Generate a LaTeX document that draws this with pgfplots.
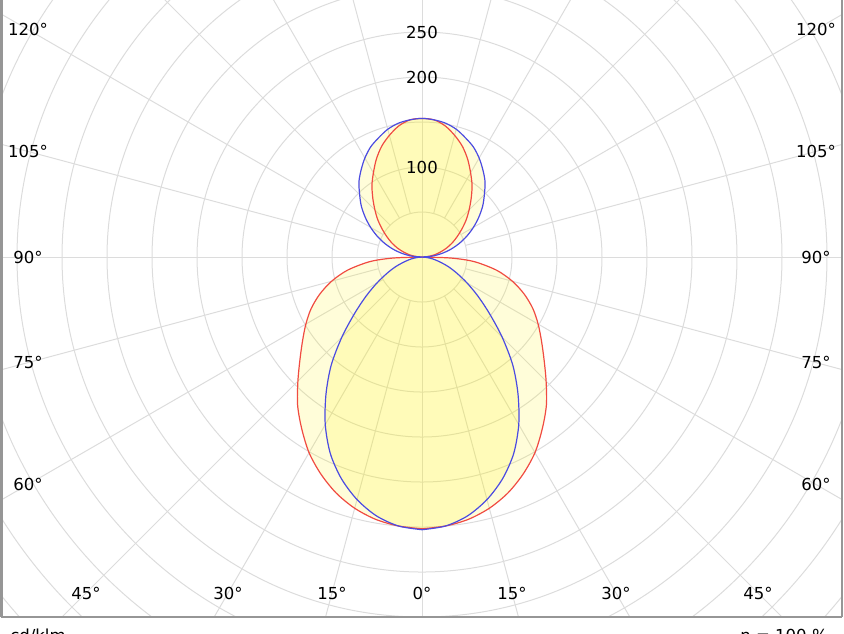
\documentclass[border=0pt]{standalone}
\usepackage{fontspec}
\setmainfont{DejaVu Sans}
\usepackage{pgfplots}
\pgfplotsset{compat=1.18}
\usepackage{pgfplotstable}
\definecolor{gridc}{RGB}{220,220,220}
\definecolor{redc}{RGB}{240,75,65}
\definecolor{bluec}{RGB}{75,75,225}
\definecolor{framec}{RGB}{150,150,150}
\newcommand\lbl{\fontsize{12.4}{14}\selectfont}

% C0/C180 plane (red), polar angle (ccw from +x) and cd/klm
\pgfplotstableread{
ang r
-90 302
-85 300
-80 296
-75 289
-70 279
-65 266
-60 251
-55 233
-50 215
-45 195
-40 177
-35 162
-30 149
-25 136
-20 121
-15 104
-10 84
-5 58
-2 32
0 0
2 3
5 7
10 14
15 21
20 29
25 37
30 45
35 54
40 64
45 74
50 85
55 97
60 108
65 120
70 131
75 140
80 148
85 153
90 154
95 153
100 148
105 140
110 131
115 120
120 108
125 97
130 85
135 74
140 64
145 54
150 45
155 37
160 29
165 21
170 14
175 7
178 3
180 0
182 32
185 58
190 84
195 104
200 121
205 136
210 149
215 162
220 177
225 195
230 215
235 233
240 251
245 266
250 279
255 289
260 296
265 300
270 302
}\redtab

% C90/C270 plane (blue)
\pgfplotstableread{
ang r
-90 303
-85 300
-80 292
-75 279
-70 262
-65 241
-60 215
-55 186
-50 157
-45 126
-40 98
-35 76
-30 58
-25 43
-20 31
-15 20
-10 12
-5 5
0 0
5 11
10 22
15 33
20 44
25 55
30 66
35 77
40 88
45 98
50 109
55 118
60 127
65 135
70 141
75 147
80 151
85 153
90 154
95 153
100 151
105 147
110 141
115 135
120 127
125 118
130 109
135 98
140 88
145 77
150 66
155 55
160 44
165 33
170 22
175 11
180 0
185 5
190 12
195 20
200 31
205 43
210 58
215 76
220 98
225 126
230 157
235 186
240 215
245 241
250 262
255 279
260 292
265 300
270 303
}\bluetab

\begin{document}
\begin{tikzpicture}
\begin{axis}[
  scale only axis,
  width=630.65pt, height=463.05pt,
  xmin=-467.6, xmax=466.7, ymin=-400, ymax=286,
  hide axis,
  clip=true,
]
% grid rings
\pgfplotsinvokeforeach{50,100,...,700}{
  \draw[gridc, line width=0.75pt] (axis cs:0,0) circle[radius=#1];
}
% radial lines
\pgfplotsinvokeforeach{15,30,45,60,75,105,120,135,150,165,195,210,225,240,255,285,300,315,330,345}{
  \draw[gridc, line width=0.75pt] (axis cs:{50*cos(#1)},{50*sin(#1)}) -- (axis cs:{700*cos(#1)},{700*sin(#1)});
}
\draw[gridc, line width=0.75pt] (axis cs:-700,0) -- (axis cs:700,0);
\draw[gridc, line width=0.75pt] (axis cs:0,-700) -- (axis cs:0,700);

% fills
\addplot[draw=none, fill=yellow, fill opacity=0.15, data cs=polar, mark=none, smooth, tension=0.5] table[x=ang,y=r]{\bluetab};
\addplot[draw=none, fill=yellow, fill opacity=0.15, data cs=polar, mark=none, smooth, tension=0.5] table[x=ang,y=r]{\redtab};
% outlines
\addplot[redc, line width=0.9pt, data cs=polar, mark=none, smooth, tension=0.5] table[x=ang,y=r]{\redtab};
\addplot[bluec, line width=0.9pt, data cs=polar, mark=none, smooth, tension=0.5] table[x=ang,y=r]{\bluetab};

% radial value labels
\node[font=\lbl] at (axis cs:0,100) {100};
\node[font=\lbl] at (axis cs:0,200) {200};
\node[font=\lbl] at (axis cs:0,250) {250};

% side angle labels
\node[font=\lbl] at (axis cs:-437.8,252.8) {120°};
\node[font=\lbl] at (axis cs:-437.8,117.3) {105°};
\node[font=\lbl] at (axis cs:-437.8,0) {90°};
\node[font=\lbl] at (axis cs:-437.8,-117.3) {75°};
\node[font=\lbl] at (axis cs:-437.8,-252.8) {60°};
\node[font=\lbl] at (axis cs:437.8,252.8) {120°};
\node[font=\lbl] at (axis cs:437.8,117.3) {105°};
\node[font=\lbl] at (axis cs:437.8,0) {90°};
\node[font=\lbl] at (axis cs:437.8,-117.3) {75°};
\node[font=\lbl] at (axis cs:437.8,-252.8) {60°};
% bottom angle labels
\node[font=\lbl] at (axis cs:0,-373.3) {0°};
\node[font=\lbl] at (axis cs:-100,-373.3) {15°};
\node[font=\lbl] at (axis cs:100,-373.3) {15°};
\node[font=\lbl] at (axis cs:-215.5,-373.3) {30°};
\node[font=\lbl] at (axis cs:215.5,-373.3) {30°};
\node[font=\lbl] at (axis cs:-373.3,-373.3) {45°};
\node[font=\lbl] at (axis cs:373.3,-373.3) {45°};

\coordinate (ll) at (rel axis cs:0,0);
\coordinate (lr) at (rel axis cs:1,0);
\coordinate (ul) at (rel axis cs:0,1);
\coordinate (ur) at (rel axis cs:1,1);
\coordinate (cdk) at (axis cs:-457.8,-426.7);
\coordinate (eta) at (axis cs:451.1,-426.7);
\coordinate (bbTL) at (axis cs:-468.9,285.6);
\coordinate (bbBR) at (axis cs:468.9,-417.8);
\end{axis}
\draw[framec, line width=2pt] (ul) -- (ll);
\draw[framec, line width=2pt] (ur) -- (lr);
\draw[framec, line width=1.1pt] (ll) -- (lr);
\node[font=\lbl, anchor=base west, inner sep=0pt] at (cdk) {cd/klm};
\node[font=\lbl, anchor=base east, inner sep=0pt] at (eta) {η = 100 \%};
\pgfresetboundingbox
\useasboundingbox (bbTL) rectangle (bbBR);
\end{tikzpicture}
\end{document}
